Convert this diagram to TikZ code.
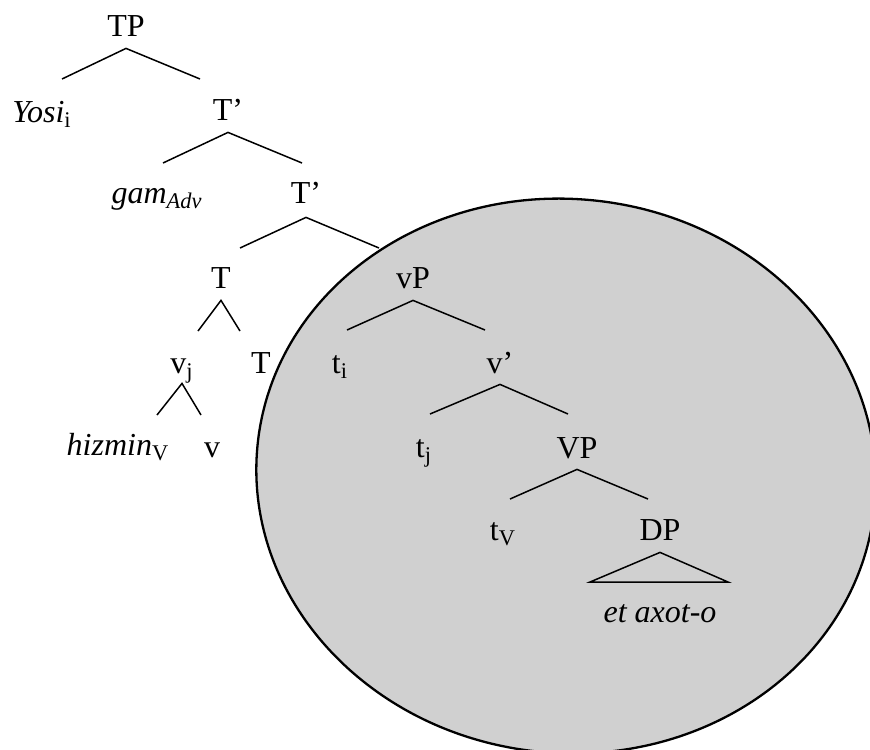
\documentclass[tikz,border=0pt]{standalone}
\usepackage{fontspec}
\setmainfont{Liberation Serif}
\definecolor{domaingray}{RGB}{208,208,208}
\tikzset {
  % category label of the tree
  cat/.style = {
    anchor = base,
    inner sep = 0pt,
    text depth = 0pt,
    font = \fontsize{16}{19}\selectfont
  },
  % lexical item at a leaf
  word/.style = {
    cat,
    font = \fontsize{16}{19}\selectfont\itshape
  },
  % branch of the tree
  branch/.style = {
    draw = black,
    line width = 0.75pt
  },
  % shaded region over the lower part of the tree
  shaded region/.style = {
    draw = black,
    fill = domaingray,
    line width = 1.15pt
  }
}

\begin{document}
\begin{tikzpicture}[x=0.5pt, y=-0.5pt]
    \useasboundingbox (0,0) rectangle (870,749);
    \clip (0,0) rectangle (870,749);

    \path[shaded region, rotate around={-6:(566,476)}]
      (566,476) ellipse [x radius=310, y radius=277];

    \node[cat] (TP) at (126,37) {TP};
    \node[word] (yosi) at (42,122) {Yosi\textsubscript{\upshape i}};
    \node[cat] (Tbar1) at (228,120) {T’};
    \node[word] (gam) at (157,203) {gam\textsubscript{Adv}};
    \node[cat] (Tbar2) at (306,203) {T’};
    \node[cat] (T) at (221,288) {T};
    \node[cat] (vj) at (182,373) {v\textsubscript{j}};
    \node[cat] (Tlow) at (261,373) {T};
    \node[word] (hizmin) at (118,455) {hizmin\textsubscript{\upshape V}};
    \node[cat] (vlow) at (212,457) {v};
    \node[cat] (vP) at (413,288) {vP};
    \node[cat] (ti) at (340,373) {t\textsubscript{i}};
    \node[cat] (vbar) at (500,373) {v’};
    \node[cat] (tj) at (424,457) {t\textsubscript{j}};
    \node[cat] (VP) at (577,458) {VP};
    \node[cat] (tV) at (503,540) {t\textsubscript{V}};
    \node[cat] (DP) at (660,540) {DP};
    \node[word] (axot) at (660,622) {et axot-o};

    \coordinate (TP-l) at (62,79);
    \coordinate (TP-r) at (200,79);
    \coordinate (Tbar1-l) at (163,163);
    \coordinate (Tbar1-r) at (302,163);
    \coordinate (Tbar2-l) at (240,248);
    \coordinate (Tbar2-r) at (379,248);
    \coordinate (T-l) at (198,331);
    \coordinate (T-r) at (240,331);
    \coordinate (vj-l) at (157,415);
    \coordinate (vj-r) at (201,415);
    \coordinate (vP-l) at (347,330);
    \coordinate (vP-r) at (485,330);
    \coordinate (vbar-l) at (430,414);
    \coordinate (vbar-r) at (568,414);
    \coordinate (VP-l) at (510,499);
    \coordinate (VP-r) at (648,499);
    \coordinate (DP-l) at (590,582);
    \coordinate (DP-r) at (728,582);

    \draw[branch] (TP-l) -- ([yshift=-5.5pt]TP.south) -- (TP-r);
    \draw[branch] (Tbar1-l) -- ([yshift=-6pt]Tbar1.south) -- (Tbar1-r);
    \draw[branch] (Tbar2-l) -- ([yshift=-7pt]Tbar2.south) -- (Tbar2-r);
    \draw[branch] (T-l) -- ([yshift=-6pt]T.south) -- (T-r);
    \draw[branch] (vj-l) -- ([yshift=-5pt]vj.south) -- (vj-r);
    \draw[branch] (vP-l) -- ([yshift=-6pt]vP.south) -- (vP-r);
    \draw[branch] (vbar-l) -- ([yshift=-5.5pt]vbar.south) -- (vbar-r);
    \draw[branch] (VP-l) -- ([yshift=-5.5pt]VP.south) -- (VP-r);
    \draw[branch] (DP-l) -- ([yshift=-6pt]DP.south) -- (DP-r) -- cycle;
\end{tikzpicture}
\end{document}
